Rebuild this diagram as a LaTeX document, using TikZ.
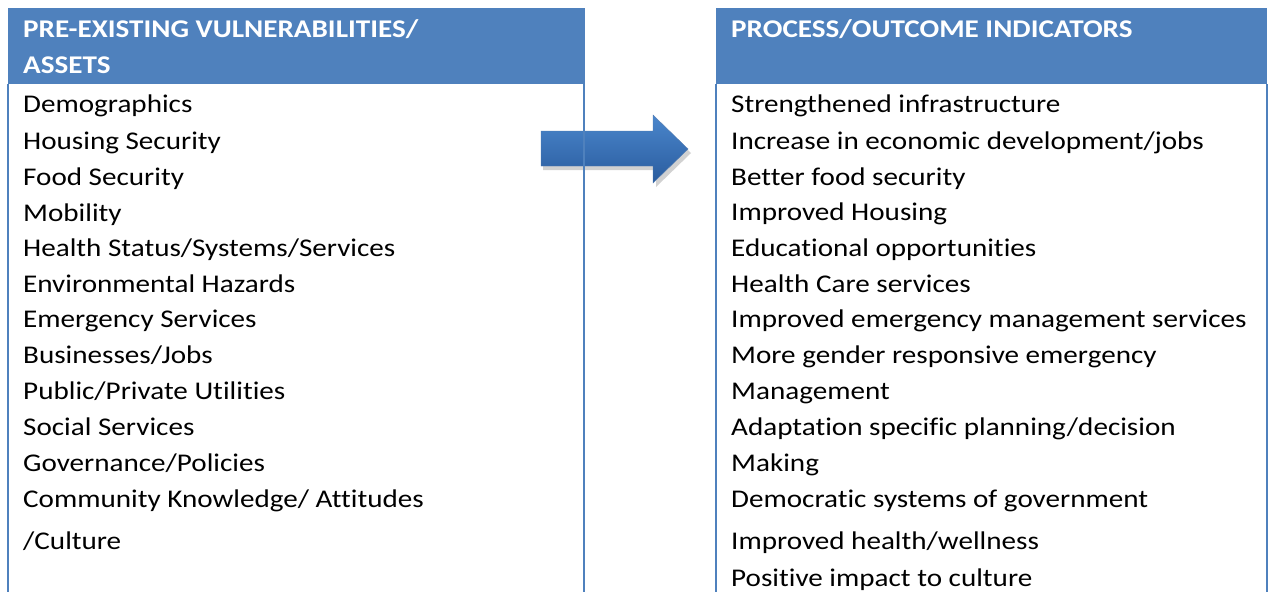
\documentclass[tikz,border=0pt]{standalone}
\usepackage{fontspec}
\setmainfont{Carlito}[FakeStretch=1.142,Ligatures=NoCommon]
\usetikzlibrary{shadows,fadings}
\definecolor{hdr}{HTML}{4F81BD}
\definecolor{arrtop}{HTML}{4A86CC}
\definecolor{arrbot}{HTML}{2A5C9E}
\begin{document}
\begin{tikzpicture}[x=1pt,y=-1pt,
  hdrbox/.style={fill=hdr,draw=none},
  border/.style={draw=hdr,line width=1.6pt},
  item/.style={anchor=base west,inner sep=0pt,font=\fontsize{25.5}{30}\selectfont},
  hdrtext/.style={anchor=base west,inner sep=0pt,text=white,font=\fontsize{25.5}{36}\selectfont\bfseries,align=left}]
\useasboundingbox (0,0) rectangle (1268,592);
% arrow
\path[fill=black,opacity=0.18] (543,135) -- (656,135) -- (656,119) -- (691,153) -- (656,187) -- (656,170) -- (543,170) -- cycle;
\shade[top color=arrtop,bottom color=arrbot,draw=arrbot!80,line width=0.4pt] (541,131) -- (653,131) -- (653,115) -- (688,149) -- (653,183) -- (653,166) -- (541,166) -- cycle;
% left box
\fill[hdrbox] (8,8) rectangle (584,84);
\draw[border] (8,84) -- (8,592);
\draw[border] (584,8) -- (584,592);
% right box
\fill[hdrbox] (716,8) rectangle (1267,84);
\draw[border] (716,84) -- (716,592);
\draw[border] (1267,84) -- (1267,592);
% headers
\node[hdrtext] (h1) at (23,37) {PRE-EXISTING VULNERABILITIES/};
\node[hdrtext] (h1b) at (23,73) {ASSETS};
\node[hdrtext] (h2) at (731,37) {PROCESS/OUTCOME INDICATORS};
% left items
\node[item] (l1) at (23,112) {Demographics};
\node[item] (l2) at (23,149) {Housing Security};
\node[item] (l3) at (23,185) {Food Security};
\node[item] (l4) at (23,221) {Mobility};
\node[item] (l5) at (23,256) {Health Status/Systems/Services};
\node[item] (l6) at (23,292) {Environmental Hazards};
\node[item] (l7) at (23,327) {Emergency Services};
\node[item] (l8) at (23,363) {Businesses/Jobs};
\node[item] (l9) at (23,399) {Public/Private Utilities};
\node[item] (l10) at (23,435) {Social Services};
\node[item] (l11) at (23,471) {Governance/Policies};
\node[item] (l12) at (23,507) {Community Knowledge/ Attitudes};
\node[item] (l13) at (23,549) {/Culture};
% right items
\node[item] (r1) at (731,112) {Strengthened infrastructure};
\node[item] (r2) at (731,149) {Increase in economic development/jobs};
\node[item] (r3) at (731,185) {Better food security};
\node[item] (r4) at (731,220) {Improved Housing};
\node[item] (r5) at (731,256) {Educational opportunities};
\node[item] (r6) at (731,292) {Health Care services};
\node[item] (r7) at (731,327) {Improved emergency management services};
\node[item] (r8) at (731,363) {More gender responsive emergency};
\node[item] (r9) at (731,399) {Management};
\node[item] (r10) at (731,435) {Adaptation specific planning/decision};
\node[item] (r11) at (731,471) {Making};
\node[item] (r12) at (731,507) {Democratic systems of government};
\node[item] (r13) at (731,549) {Improved health/wellness};
\node[item] (r14) at (731,586) {Positive impact to culture};
\end{tikzpicture}
\end{document}
